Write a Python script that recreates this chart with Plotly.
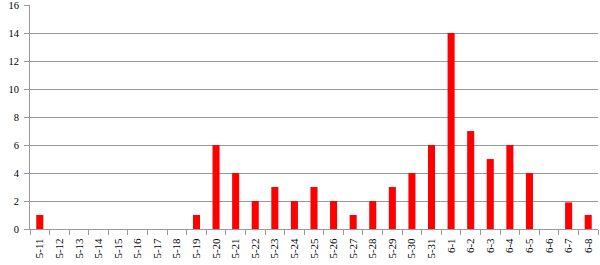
import plotly.graph_objects as go

categories = ["5-11", "5-12", "5-13", "5-14", "5-15", "5-16", "5-17", "5-18", "5-19", "5-20",
              "5-21", "5-22", "5-23", "5-24", "5-25", "5-26", "5-27", "5-28", "5-29", "5-30",
              "5-31", "6-1", "6-2", "6-3", "6-4", "6-5", "6-6", "6-7", "6-8"]
values = [1, 0, 0, 0, 0, 0, 0, 0, 1, 6,
          4, 2, 3, 2, 3, 2, 1, 2, 3, 4,
          6, 14, 7, 5, 6, 4, 0, 1.9, 1]
y_ticks = [0, 2, 4, 6, 8, 10, 12, 14, 16]

serif = "Liberation Serif, Times New Roman, serif"

fig = go.Figure()
fig.add_trace(go.Bar(x=categories, y=values, marker_color="#ff0000",
                     marker_line_width=0, width=0.36))

fig.update_layout(
    width=600, height=265,
    margin=dict(l=30, r=2, t=5, b=36, autoexpand=False),
    paper_bgcolor="white", plot_bgcolor="white",
    showlegend=False,
    font=dict(family=serif, size=10, color="#000000"),
    xaxis=dict(
        type="category", tickangle=-90, ticks="outside", tickson="boundaries",
        ticklen=5, tickcolor="#999999", showline=True, linecolor="#999999", linewidth=1,
        showgrid=False, tickfont=dict(family=serif, size=11),
        range=[-0.5, len(categories) - 0.5], automargin=False,
        ticklabelstandoff=4,
    ),
    yaxis=dict(
        range=[0, 16.01], autorange=False, tickmode="array", tickvals=y_ticks,
        ticks="outside", ticklen=5, tickcolor="#999999",
        showline=True, linecolor="#999999", linewidth=1,
        showgrid=True, gridcolor="#999999", gridwidth=1, zeroline=False,
        tickfont=dict(family=serif, size=10.5), automargin=False,
        ticklabeloverflow="allow", ticklabelstandoff=3,
    ),
)

fig.write_html("out.html", include_plotlyjs=True)
